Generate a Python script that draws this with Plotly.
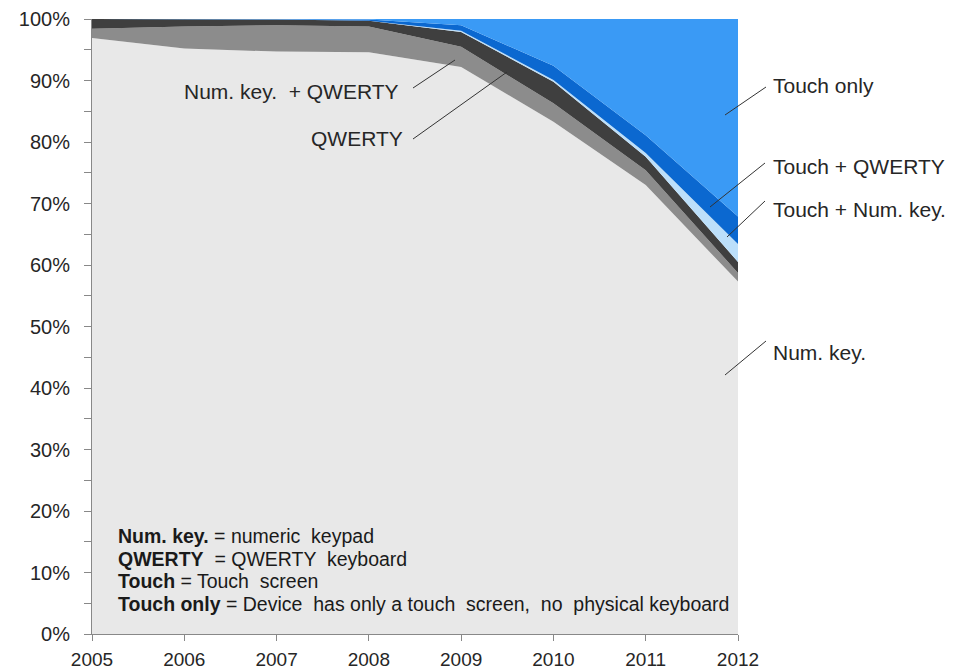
import plotly.graph_objects as go

years = [2005, 2006, 2007, 2008, 2009, 2010, 2011, 2012]
num_key = [96.9, 95.2, 94.7, 94.6, 92.2, 83.3, 73.0, 57.3]
num_qwerty = [1.5, 3.6, 4.3, 4.2, 3.3, 3.0, 2.4, 1.4]
qwerty = [1.6, 1.2, 0.9, 0.9, 2.4, 3.5, 2.2, 1.8]
touch_num = [0.0, 0.0, 0.0, 0.0, 0.2, 0.3, 0.6, 2.9]
touch_qwerty = [0.0, 0.0, 0.1, 0.2, 0.9, 2.3, 2.9, 4.5]
touch_only = [0.0, 0.0, 0.0, 0.1, 1.0, 7.6, 18.9, 32.1]

series = [
    ("Num. key.", num_key, "#e8e8e8"),
    ("Num. key. + QWERTY", num_qwerty, "#8c8c8c"),
    ("QWERTY", qwerty, "#3f3f3f"),
    ("Touch + Num. key.", touch_num, "#bcdffa"),
    ("Touch + QWERTY", touch_qwerty, "#0b68d0"),
    ("Touch only", touch_only, "#3a9af5"),
]

fig = go.Figure()
for name, vals, col in series:
    fig.add_trace(go.Scatter(
        x=years, y=vals, name=name, mode="lines", stackgroup="one",
        line=dict(width=0, color=col), fillcolor=col, hoverinfo="skip",
    ))

# plot area geometry in page pixels (the page body has an 8px margin)
L, R, T, B = 92, 738, 19, 634
W, H = 949, 663
OFF = 8
def px(x):
    return (x - L) / (R - L)
def py(y):
    return (B - y) / (B - T)

font = "Liberation Sans, Arial, sans-serif"

leader_lines = [
    ((725, 115), (766, 87)),
    ((710, 207), (765, 163)),
    ((727, 237), (765, 201)),
    ((725, 375), (766, 341)),
    ((413, 88), (455, 60)),
    ((413, 139), (507, 72)),
]
shapes = []
for (x0, y0), (x1, y1) in leader_lines:
    shapes.append(dict(type="line", xref="paper", yref="paper",
                       x0=px(x0), y0=py(y0), x1=px(x1), y1=py(y1),
                       line=dict(color="#333333", width=1)))

labels = [
    ("Touch only", 771, 86, "left"),
    ("Touch + QWERTY", 771, 166, "left"),
    ("Touch + Num. key.", 771, 209, "left"),
    ("Num. key.", 771, 352, "left"),
    ("Num. key.  + QWERTY", 401, 91, "right"),
    ("QWERTY", 405, 139, "right"),
]
annotations = []
for text, x, y, anchor in labels:
    annotations.append(dict(text=text, xref="paper", yref="paper",
                            x=px(x), y=py(y), xanchor=anchor, yanchor="middle",
                            showarrow=False,
                            font=dict(family=font, size=21, color="#262626")))

legend_lines = [
    "<b>Num. key.</b> = numeric  keypad",
    "<b>QWERTY</b>  = QWERTY  keyboard",
    "<b>Touch</b> = Touch  screen",
    "<b>Touch only</b> = Device  has only a touch  screen,  no  physical keyboard",
]
for i, t in enumerate(legend_lines):
    annotations.append(dict(text=t, xref="paper", yref="paper",
                            x=px(116), y=py(536 + i * 22.7), xanchor="left",
                            yanchor="middle", showarrow=False,
                            font=dict(family=font, size=19.5, color="#1a1a1a")))

fig.update_layout(
    width=W, height=H,
    margin=dict(l=L - OFF, r=W - (R - OFF), t=T - OFF, b=H - (B - OFF),
                autoexpand=False),
    paper_bgcolor="white", plot_bgcolor="white",
    showlegend=False,
    shapes=shapes, annotations=annotations,
    xaxis=dict(range=[2005, 2012], tickvals=years, ticks="outside", ticklen=6,
               tickcolor="#888888", showline=True, linecolor="#888888",
               showgrid=False, zeroline=False, ticklabelstandoff=2,
               automargin=False,
               tickfont=dict(family=font, size=19, color="#262626")),
    yaxis=dict(range=[0, 100], dtick=10, ticksuffix="%", ticks="outside",
               ticklen=7, tickcolor="#888888", showline=True,
               linecolor="#888888", showgrid=False, zeroline=False,
               ticklabelstandoff=10, automargin=False,
               minor=dict(dtick=5, ticks="outside", ticklen=7, tickcolor="#888888"),
               tickfont=dict(family=font, size=20, color="#262626")),
)

fig.write_html("out.html")
